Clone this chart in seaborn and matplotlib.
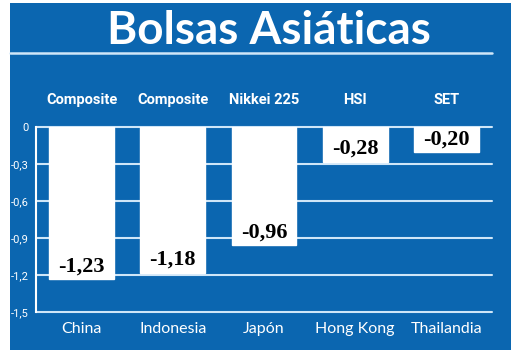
import matplotlib
matplotlib.use("Agg")
import matplotlib.pyplot as plt
import seaborn as sns
import pandas as pd
from matplotlib.patches import Rectangle
from matplotlib.lines import Line2D
import matplotlib.transforms as mtransforms

# ---- data ----
countries = ["China", "Indonesia", "Japón", "Hong Kong", "Thailandia"]
indices = ["Composite", "Composite", "Nikkei 225", "HSI", "SET"]
values = [-1.23, -1.18, -0.96, -0.28, -0.20]
yticks = [0, -0.3, -0.6, -0.9, -1.2, -1.5]
ytick_labels = ["0", "-0,3", "-0,6", "-0,9", "-1,2", "-1,5"]
title = "Bolsas Asiáticas"

BLUE = "#0b66b0"
GRID = "#cfe6f8"

sns.set_theme(style="white")
W, H = 520, 353
fig = plt.figure(figsize=(W / 100, H / 100), dpi=100)
fig.patch.set_facecolor("white")

# blue panel
fig.patches.append(Rectangle((10 / W, 1 - 350 / H), (511 - 10) / W, (350 - 3) / H,
                             transform=fig.transFigure, facecolor=BLUE,
                             edgecolor="none", zorder=-10))
# title rule
fig.lines.append(Line2D([10 / W, 492 / W], [1 - 53 / H, 1 - 53 / H],
                        transform=fig.transFigure, color=GRID, lw=1.8, zorder=-5))
fig.text(269 / W, 1 - 31 / H, title, ha="center", va="center", color="white",
         fontsize=33, fontweight="bold", family=["Lato", "DejaVu Sans"])

ax = fig.add_axes([36 / W, 1 - 312 / H, (492 - 36) / W, (312 - 127) / H])
ax.set_facecolor("none")
ax.set_zorder(5)

df = pd.DataFrame({"country": countries, "value": values})
sns.barplot(data=df, x="country", y="value", color="white", saturation=1,
            width=0.71, ax=ax, zorder=3)

ax.set_xlim(-0.5, 4.5)
ax.set_ylim(-1.5, 0)
ax.set_yticks(yticks)
ax.set_yticklabels(ytick_labels)
ax.set_xlabel("")
ax.set_ylabel("")

for y in yticks:
    ax.axhline(y, color=GRID, lw=1.5, zorder=1, clip_on=False)

for s in ["top", "right", "bottom"]:
    ax.spines[s].set_visible(False)
ax.spines["left"].set_color("white")
ax.spines["left"].set_linewidth(1.5)

ax.tick_params(axis="y", length=0, pad=5, colors="white", labelsize=8)
ax.tick_params(axis="x", length=0, pad=7, colors="white", labelsize=11.5)
for lab in ax.get_yticklabels():
    lab.set_family(["Roboto", "DejaVu Sans"])
for lab in ax.get_xticklabels():
    lab.set_family(["Lato", "DejaVu Sans"])

trans = mtransforms.blended_transform_factory(ax.transData, ax.transAxes)
for i, (name, v) in enumerate(zip(indices, values)):
    ax.text(i, (312 - 100) / 185, name, transform=trans, ha="center", va="center",
            color="white", fontsize=10.5, fontweight="bold",
            family=["Roboto", "DejaVu Sans"])
    ax.annotate(f"{v:.2f}".replace(".", ","), (i, v), xytext=(0, 9),
                textcoords="offset points", ha="center", va="center",
                fontsize=16, fontweight="bold", color="black",
                family=["Liberation Serif", "DejaVu Serif"], zorder=5)

fig.savefig("out.png", dpi=100, facecolor="white")
